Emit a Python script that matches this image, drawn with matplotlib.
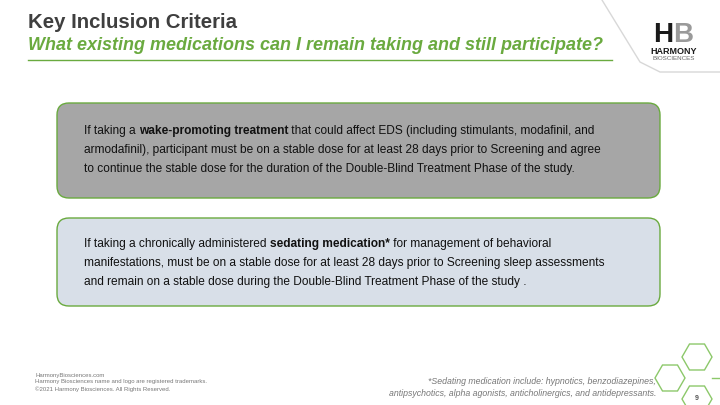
import matplotlib
matplotlib.use("Agg")
import math
import matplotlib.pyplot as plt
from matplotlib.patches import FancyBboxPatch, RegularPolygon

title = "Key Inclusion Criteria"
subtitle = "What existing medications can I remain taking and still participate?"
box1_lines = [
    [("If taking a ", False), ("wake-promoting treatment", True), (" that could affect EDS (including stimulants, modafinil, and", False)],
    [("armodafinil), participant must be on a stable dose for at least 28 days prior to Screening and agree", False)],
    [("to continue the stable dose for the duration of the Double-Blind Treatment Phase of the study.", False)],
]
box2_lines = [
    [("If taking a chronically administered ", False), ("sedating medication*", True), (" for management of behavioral", False)],
    [("manifestations, must be on a stable dose for at least 28 days prior to Screening sleep assessments", False)],
    [("and remain on a stable dose during the Double-Blind Treatment Phase of the study .", False)],
]
footer_left = ["HarmonyBiosciences.com",
               "Harmony Biosciences name and logo are registered trademarks.",
               "©2021 Harmony Biosciences. All Rights Reserved."]
footer_right = ["*Sedating medication include: hypnotics, benzodiazepines,",
                "antipsychotics, alpha agonists, anticholinergics, and antidepressants."]
page = "9"

GREEN = "#6aaa3f"
fig = plt.figure(figsize=(7.2, 4.05), dpi=100)
ax = fig.add_axes([0, 0, 1, 1])
ax.set_xlim(0, 720); ax.set_ylim(405, 0); ax.axis("off")
FONT = "Liberation Sans"

ax.text(28, 22, title, fontsize=14.7, fontweight="bold", color="#3f3f3f", family=FONT, va="center")
ax.text(28, 45, subtitle, fontsize=13.0, fontweight="bold", style="italic", color=GREEN, family=FONT, va="center")
ax.plot([28, 612], [60, 60], color=GREEN, lw=1)

ax.plot([602, 640, 660, 720], [0, 62, 72, 72], color="#d8d8d8", lw=1)
ax.text(673, 35, "H", fontsize=20, fontweight="bold", color="#1a1a1a", family=FONT, ha="right", va="center")
ax.text(673, 35, "B", fontsize=20, fontweight="bold", color="#9a9a9a", family=FONT, ha="left", va="center")
ax.text(674, 51, "HARMONY", fontsize=6.5, fontweight="bold", color="#1a1a1a", family=FONT, ha="center", va="center")
ax.text(674, 59, "BIOSCIENCES", fontsize=4.5, color="#666666", family=FONT, ha="center", va="center")

def box(y0, y1, fc):
    ax.add_patch(FancyBboxPatch((57, y0), 603, y1 - y0, boxstyle="round,pad=0,rounding_size=12",
                                fc=fc, ec=GREEN, lw=1))
box(103, 198, "#a6a6a6")
box(218, 306, "#d8dfe8")

fig.canvas.draw()
r = fig.canvas.get_renderer()
def runs(lines, y0, dy=19):
    for i, line in enumerate(lines):
        x = 84
        y = y0 + i * dy
        for s, b in line:
            t = ax.text(x, y, s, fontsize=8.6, fontweight="bold" if b else "normal",
                        color="#111111", family=FONT, va="center")
            bb = t.get_window_extent(r)
            x += bb.width * 720 / fig.bbox.width
runs(box1_lines, 131)
runs(box2_lines, 244)

for i, s in enumerate(footer_left):
    ax.text(35, 375 + i * 7, s, fontsize=4.3, color="#777777", family=FONT, va="center")
for i, s in enumerate(footer_right):
    ax.text(656, 382 + i * 12, s, fontsize=6.3, style="italic", color="#777777", family=FONT, va="center", ha="right")

for cx, cy in [(697, 357), (670, 378), (697, 399)]:
    ax.add_patch(RegularPolygon((cx, cy), 6, radius=15, orientation=math.pi / 6, fc="none", ec="#8cc86a", lw=1))
ax.plot([712, 720], [378, 378], color="#8cc86a", lw=1)
ax.text(697, 398, page, fontsize=5, color="#555555", family=FONT, ha="center", va="center", fontweight="bold")

fig.savefig("out.png", dpi=100)
